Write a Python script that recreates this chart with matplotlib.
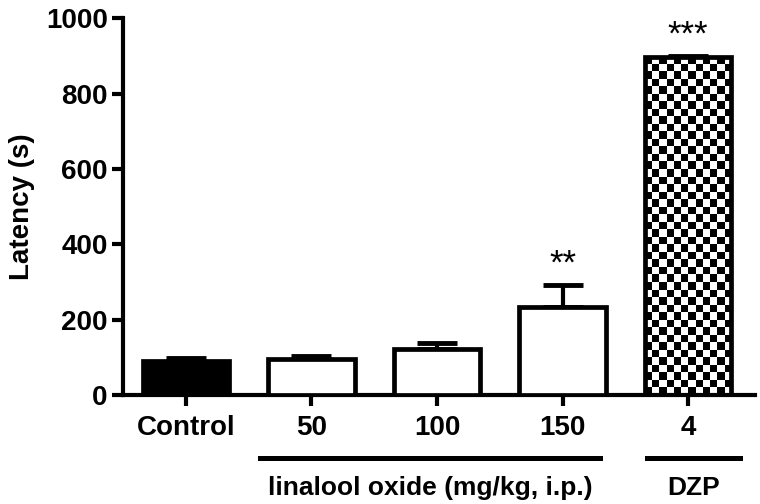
import numpy as np
import matplotlib
matplotlib.use("Agg")
import matplotlib.pyplot as plt
import matplotlib.transforms as mtransforms

plt.rcParams['font.family'] = ['Liberation Sans', 'DejaVu Sans']
plt.rcParams['font.weight'] = 'bold'

groups = ["Control", "50", "100", "150", "4"]
means = [90, 95, 122, 233, 898]
sem = [8, 10, 16, 58, 2]
fills = ["black", "white", "white", "white", "checker"]
stars = ["", "", "", "**", "***"]

fig = plt.figure(figsize=(7.6, 5.04), dpi=100)
ax = fig.add_axes([0.162, 0.216, 0.831, 0.748])

x = np.arange(len(groups))
width = 0.69
bars = ax.bar(x, means, width=width, color=["black" if f == "black" else "white" for f in fills],
              edgecolor="black", linewidth=3.4, zorder=3)
ax.errorbar(x, means, yerr=[np.zeros(len(sem)), sem], fmt="none", ecolor="black",
            elinewidth=3, capsize=14.4, capthick=3.5, zorder=2)

ax.set_xlim(-0.5, 4.53)
ax.set_ylim(0, 1000)

# checkerboard fill for DZP bar
for b, f in zip(bars, fills):
    if f != "checker":
        continue
    x0, y0 = b.get_x(), b.get_y()
    x1, y1 = x0 + b.get_width(), y0 + b.get_height()
    fig.canvas.draw()
    p0 = ax.transData.transform((x0, y0))
    p1 = ax.transData.transform((x1, y1))
    nx = max(1, int(round((p1[0] - p0[0]) / 7.5)))
    ny = max(1, int(round((p1[1] - p0[1]) / 7.5)))
    board = (np.indices((ny, nx)).sum(axis=0) % 2).astype(float)
    im = ax.imshow(board, cmap="gray", extent=(x0, x1, y0, y1), aspect="auto",
                   interpolation="nearest", zorder=2.5, origin="lower")
    im.set_clip_path(b)
    b.set_facecolor("none")

for xi, m, s, st in zip(x, means, sem, stars):
    if st:
        ax.text(xi, m + s + 12, st, ha="center", va="bottom", fontsize=25,
                fontweight="normal")

ax.spines["top"].set_visible(False)
ax.spines["right"].set_visible(False)
ax.spines["left"].set_linewidth(3)
ax.spines["bottom"].set_linewidth(3)
ax.set_yticks([0, 200, 400, 600, 800, 1000])
ax.set_xticks(x)
ax.set_xticklabels(groups)
ax.tick_params(axis="both", width=3, length=8, labelsize=20, direction="out")
ax.tick_params(axis="y", pad=3)
ax.tick_params(axis="x", pad=6)
ax.set_ylabel("Latency (s)", fontsize=20, fontweight="bold", labelpad=8)

trans = mtransforms.blended_transform_factory(ax.transData, ax.transAxes)
ax.plot([0.59, 3.30], [-0.167, -0.167], color="black", lw=3.6, transform=trans, clip_on=False)
ax.plot([3.67, 4.41], [-0.167, -0.167], color="black", lw=3.6, transform=trans, clip_on=False)
ax.text(1.95, -0.247, "linalool oxide (mg/kg, i.p.)", transform=trans, ha="center",
        va="center", fontsize=19, fontweight="bold")
ax.text(4.04, -0.247, "DZP", transform=trans, ha="center", va="center",
        fontsize=19, fontweight="bold")

fig.savefig("out.png", dpi=100)
